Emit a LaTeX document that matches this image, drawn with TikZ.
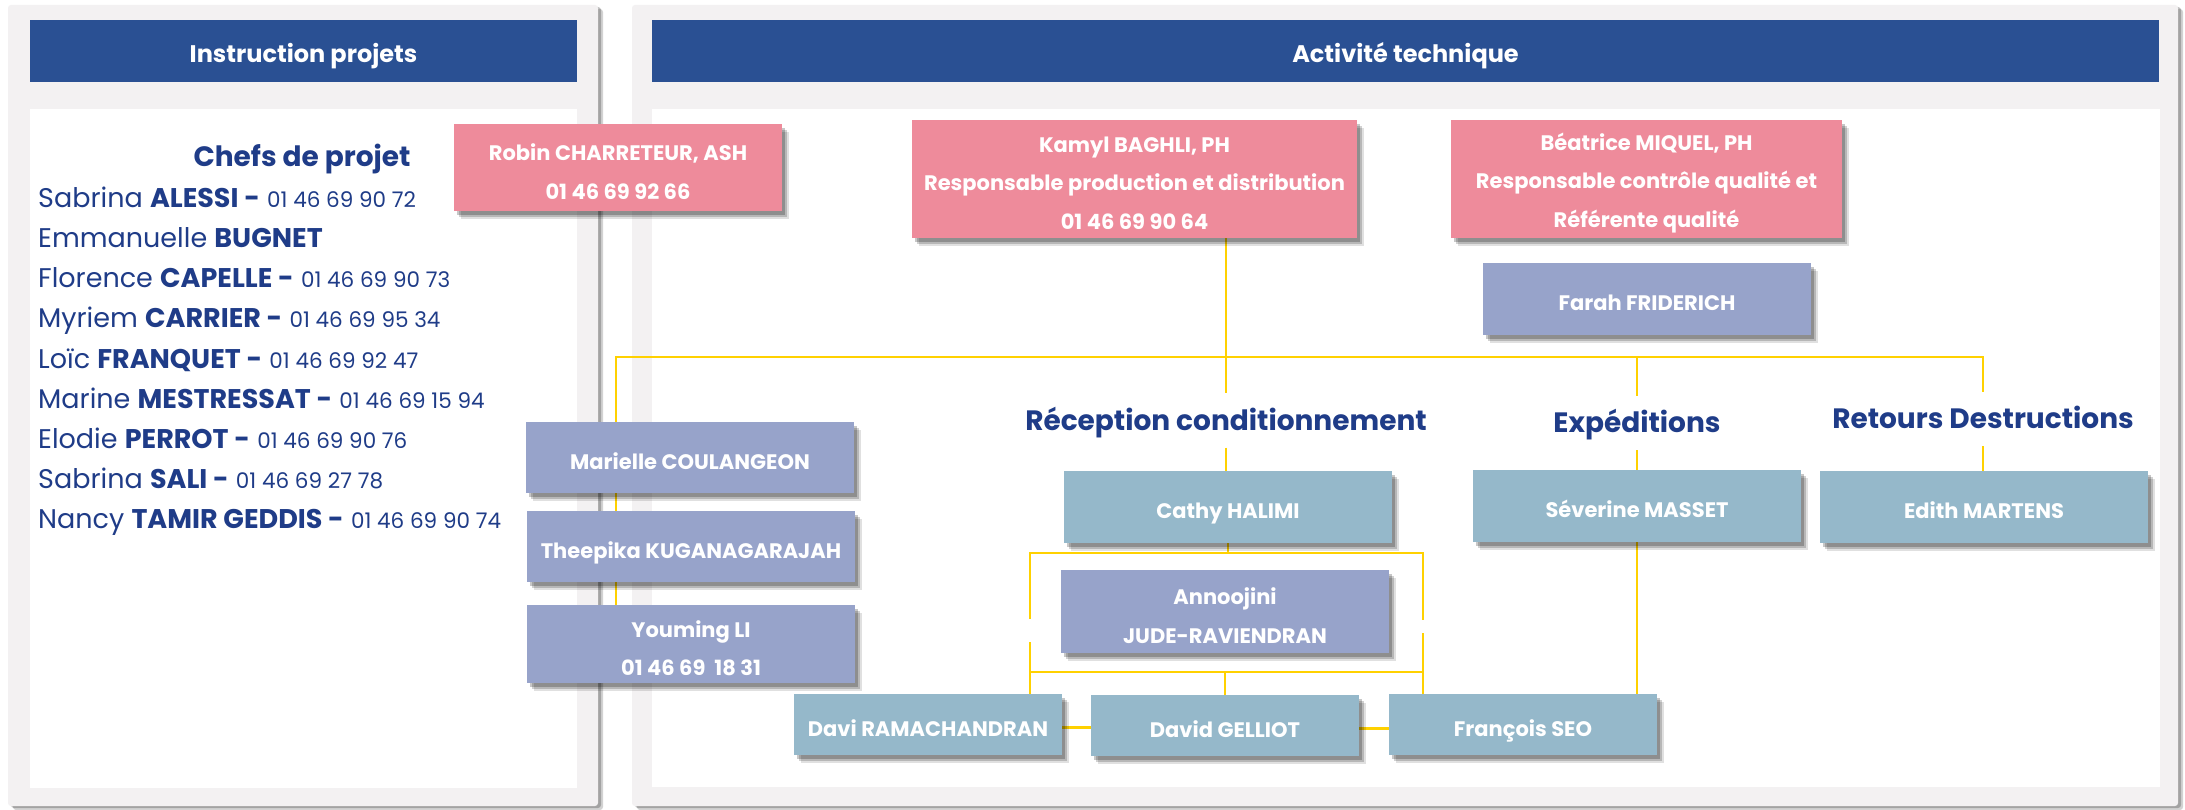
\documentclass[tikz,border=0pt]{standalone}
\usepackage{fontspec}
\setmainfont{Poppins}
\usetikzlibrary{shadows}
\definecolor{hdrblue}{HTML}{2A5093}
\definecolor{txtblue}{HTML}{1F3C88}
\definecolor{pinkbox}{HTML}{EE8B9B}
\definecolor{lavbox}{HTML}{97A3CA}
\definecolor{steelbox}{HTML}{95B8CA}
\definecolor{linkyel}{HTML}{FFD100}
\definecolor{panelgray}{HTML}{F3F1F2}
\newcommand\phonefont{\fontsize{21.5}{26}\selectfont}
\pgfdeclarelayer{back}
\pgfdeclarelayer{lines}
\pgfsetlayers{back,lines,main}
% #1 box style, #2 name, #3 centre, #4 width, #5 height, #6 text style, #7 text
\newcommand\staffbox[7]{%
  \node[#1, minimum width=#4pt, minimum height=#5pt] (#2) at (#3) {};
  \node[#6] (#2-t) at (#2.center) {#7};}
\begin{document}
\begin{tikzpicture}[x=1pt,y=-1pt,
  panel/.style={fill=panelgray, draw=none, rounded corners=3pt,
    drop shadow={shadow xshift=5pt,shadow yshift=-4pt,opacity=0.25,fill=black!70},
    drop shadow={shadow xshift=3pt,shadow yshift=-2pt,opacity=0.35,fill=black!70}},
  header/.style={fill=hdrblue, text=white, font=\fontsize{24}{28}\selectfont\bfseries, inner sep=0pt,
    minimum height=62pt, text height=23.4pt, text depth=0pt},
  person/.style={draw=none, inner sep=0pt,
    drop shadow={shadow xshift=7pt,shadow yshift=-8pt,opacity=0.12,fill=black},
    drop shadow={shadow xshift=5pt,shadow yshift=-6pt,opacity=0.18,fill=black},
    drop shadow={shadow xshift=3pt,shadow yshift=-4pt,opacity=0.22,fill=black}},
  pinkp/.style={person, fill=pinkbox},
  lavp/.style={person, fill=lavbox},
  steelp/.style={person, fill=steelbox},
  onetext/.style={text=white, font=\fontsize{21}{38.5}\selectfont\bfseries, inner sep=0pt,
    text height=15.5pt, text depth=5pt, yshift=-6.5pt},
  multitext/.style={text=white, font=\fontsize{21}{38.5}\selectfont\bfseries, inner sep=0pt,
    align=center, yshift=-4pt},
  section/.style={text=txtblue, font=\fontsize{28}{32}\selectfont\bfseries, inner sep=0pt,
    minimum height=54pt, text height=25pt, text depth=6pt},
  link/.style={draw=linkyel, line width=2.7pt},
  listline/.style={text=txtblue, font=\fontsize{27}{32}\selectfont, anchor=base west, inner sep=0pt},
]
\useasboundingbox (0,0) rectangle (2185,810);
\begin{pgfonlayer}{back}
\fill[white] (0,0) rectangle (2185,810);
\path[panel] (8,5) rectangle (598,806);
\path[panel] (632,5) rectangle (2178,806);
\fill[white] (30,109) rectangle (577,788);
\fill[white] (652,109) rectangle (2160,787);
\node[header, minimum width=547pt] (hdrL) at (303.5,51) {Instruction projets};
\node[header, minimum width=1507pt] (hdrR) at (1405.5,51) {Activité technique};
\end{pgfonlayer}

% left list
\node[text=txtblue, font=\fontsize{28}{32}\selectfont\bfseries, anchor=base, inner sep=0pt] (chefs) at (302,167) {Chefs de projet};
\node[listline] (l1) at (38,208) {Sabrina \textbf{ALESSI -} {\phonefont 01 46 69 90 72}};
\node[listline] (l2) at (38,248) {Emmanuelle \textbf{BUGNET}};
\node[listline] (l3) at (38,288) {Florence \textbf{CAPELLE -} {\phonefont 01 46 69 90 73}};
\node[listline] (l4) at (38,328) {Myriem \textbf{CARRIER -} {\phonefont 01 46 69 95 34}};
\node[listline] (l5) at (38,368) {Loïc \textbf{FRANQUET -} {\phonefont 01 46 69 92 47}};
\node[listline] (l6) at (38,408) {Marine \textbf{MESTRESSAT -} {\phonefont 01 46 69 15 94}};
\node[listline] (l7) at (38,448) {Elodie \textbf{PERROT -} {\phonefont 01 46 69 90 76}};
\node[listline] (l8) at (38,488) {Sabrina \textbf{SALI -} {\phonefont 01 46 69 27 78}};
\node[listline] (l9) at (38,528) {Nancy \textbf{TAMIR GEDDIS -} {\phonefont 01 46 69 90 74}};

% section titles
\node[section] (recep) at (1226,420.5) {Réception conditionnement};
\node[section] (exped) at (1637,423) {Expéditions};
\node[section] (retours) at (1983,419) {Retours Destructions};

% people boxes
\staffbox{pinkp}{robin}{618,167.5}{328}{87}{multitext}{Robin CHARRETEUR, ASH\\01 46 69 92 66}
\staffbox{pinkp}{kamyl}{1134.5,179}{445}{118}{multitext}{Kamyl BAGHLI, PH\\Responsable production et distribution\\01 46 69 90 64}
\staffbox{pinkp}{beatrice}{1646.5,179}{391}{118}{multitext}{Béatrice MIQUEL, PH\\Responsable contrôle qualité et\\Référente qualité}
\staffbox{lavp}{farah}{1647,299}{328}{72}{onetext}{Farah FRIDERICH}
\staffbox{lavp}{marielle}{690,457.5}{328}{71}{onetext}{Marielle COULANGEON}
\staffbox{lavp}{theepika}{691,546.5}{328}{71}{onetext}{Theepika KUGANAGARAJAH}
\staffbox{lavp}{youming}{691,644}{328}{78}{multitext}{Youming LI\\01 46 69\ \ 18 31}
\staffbox{steelp}{cathy}{1228,507}{328}{72}{onetext}{Cathy HALIMI}
\staffbox{steelp}{severine}{1637,506}{328}{72}{onetext}{Séverine MASSET}
\staffbox{steelp}{edith}{1984,507}{328}{72}{onetext}{Edith MARTENS}
\staffbox{lavp}{annoo}{1225,611.5}{328}{83}{multitext}{Annoojini\\JUDE-RAVIENDRAN}
\staffbox{steelp}{davi}{928,724.5}{268}{61}{onetext}{Davi RAMACHANDRAN}
\staffbox{steelp}{david}{1225,725.5}{268}{61}{onetext}{David GELLIOT}
\staffbox{steelp}{francois}{1523,724.5}{268}{61}{onetext}{François SEO}

% connector corner points
\coordinate (busL) at (616,357);
\coordinate (busR) at (1983,357);
\coordinate (brTL) at (1030,553);
\coordinate (brTR) at (1423,553);
\coordinate (brBL) at (1030,672);
\coordinate (brBR) at (1423,672);
\coordinate (gapL1) at (1030,619);
\coordinate (gapL2) at (1030,642);
\coordinate (gapR1) at (1423,620);
\coordinate (gapR2) at (1423,633);

% connectors, under the boxes
\begin{pgfonlayer}{lines}
\draw[link] (busL |- youming.north) -- (busL) -- (busR) -- (retours.north);
\draw[link] (recep.north |- kamyl.south) -- (recep.north);
\draw[link] (exped.north |- busR) -- (exped.north);
\draw[link] (recep.south) -- (recep.south |- cathy.north);
\draw[link] (exped.south) -- (exped.south |- severine.north);
\draw[link] (retours.south) -- (retours.south |- edith.north);
\draw[link] (severine.south) -- (severine.south |- francois.north);
\draw[link] (cathy.south) -- (cathy.south |- brTL);
\draw[link] (gapL1) -- (brTL) -- (brTR) -- (gapR1);
\draw[link] (brBL |- davi.north) -- (gapL2);
\draw[link] (brBR |- francois.north) -- (gapR2);
\draw[link] (brBL) -- (brBR);
\draw[link] (david.north) -- (david.north |- brBL);
\draw[link] ([yshift=-3pt]davi.east) -- ([yshift=-3pt]davi.east -| david.west);
\draw[link] ([yshift=-3pt]david.east) -- ([yshift=-3pt]david.east -| francois.west);
\end{pgfonlayer}
\end{tikzpicture}
\end{document}
